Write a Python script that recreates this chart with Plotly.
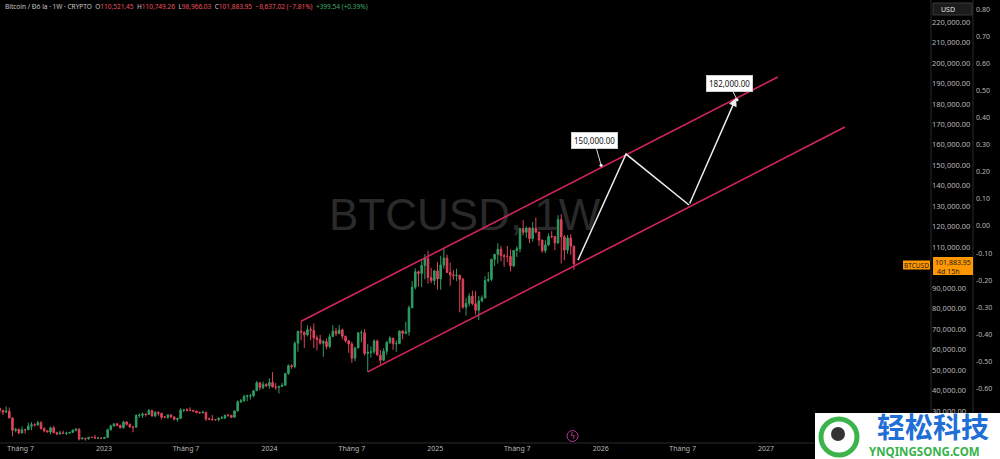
import pandas as pd
import plotly.graph_objects as go

# ---------------- data (weekly BTC/USD candles) ----------------
week_start = "2022-05-16"

opens = [
    31300, 30300, 29450, 29900, 26600, 20550, 21000, 19300, 20850, 20800, 22600, 23300, 23200,
    24300, 21500, 20300, 19800, 21800, 19400, 18800, 19300, 19070, 19200, 19570, 20630, 21150,
    16330, 16700, 16450, 17120, 17100, 16780, 16840,
    16610, 17100, 20900, 22700, 23750, 22950, 21800, 24600, 23500, 22200, 22100, 27800, 27900,
    28500, 28300, 30300, 27600, 29300, 28900, 26900, 26900, 28100, 27100, 25900, 26300, 30500,
    30600, 30300, 30300, 30000, 29300, 29100, 29400, 26100, 26000, 25800, 25800, 26500, 26600,
    27970, 27900, 26900, 30000, 34500, 35000, 37100, 37400, 37450, 39900, 43800, 41400, 43000,
    42300, 43900, 41700, 41600, 42000, 42600, 48300, 52100, 51700, 63100, 68900, 68400, 67200,
    69700, 69400, 65700, 64900, 63100, 63900, 61500, 66300, 69000, 67800, 69600, 66500, 64300,
    62700, 55800, 60800, 68200, 68250, 58100, 58700, 58900, 64200, 57300, 54800, 59200, 63600,
    65600, 62800, 62900, 69000, 67900, 68700, 80400, 90500, 98000, 97200, 101100, 104500, 95200,
    93700,
    98400, 94500, 101300, 104700, 97700, 96500, 96100, 96300, 94300, 80700, 82600, 86100, 82400,
    79200, 83800, 85200, 93700, 94300, 104100, 106500, 109000, 105800, 105600, 105500, 100900,
    108400, 109200, 119100, 117300, 119400, 114200, 119300, 117400, 113500, 108300, 111100,
    115300, 115200, 112100, 123500, 115100, 108600, 114500, 110521.45,
]
highs = [
    31400, 30600, 32200, 31700, 26900, 21800, 21500, 22500, 21300, 24300, 24600, 24000, 25200,
    25000, 22000, 20600, 22400, 22800, 19900, 20400, 20500, 19900, 19700, 21000, 21500, 21500,
    17200, 16800, 17400, 17400, 18400, 17000, 16950,
    17200, 21400, 23300, 23800, 24200, 23400, 25200, 25100, 23900, 22600, 28400, 28900, 29200,
    28800, 31000, 30500, 30000, 29800, 29000, 27600, 28400, 28400, 27400, 26800, 31400, 31000,
    31400, 31800, 30400, 30100, 29700, 30200, 29600, 26800, 28100, 26100, 26800, 27500, 28000,
    28600, 28000, 30300, 35200, 35900, 37900, 38000, 38400, 40000, 44700, 43900, 44400, 43600,
    45900, 49000, 43600, 42200, 43800, 48600, 52800, 52900, 64000, 69200, 73800, 68900, 71800,
    71300, 72800, 66900, 67200, 64700, 65500, 67700, 71900, 70600, 72000, 70200, 66900, 64600,
    63800, 61400, 68300, 69400, 70000, 62600, 61600, 65000, 64900, 59800, 60600, 64100, 66500,
    65700, 64400, 69400, 69500, 73600, 81500, 93400, 99600, 98600, 104000, 106600, 108300, 99900,
    98900,
    102700, 105800, 109600, 106400, 102500, 98800, 99500, 96500, 95000, 85300, 87500, 88800, 88500,
    86100, 86500, 95800, 97900, 104300, 106600, 111900, 110700, 106800, 110600, 108900, 108500,
    110500, 119500, 123200, 120200, 119900, 122300, 124500, 117600, 113600, 113400, 116700,
    117900, 115400, 125600, 126200, 115900, 116000, 116400, 110749.26,
]
lows = [
    28700, 28000, 29300, 26500, 17600, 19600, 18600, 19000, 18900, 20800, 20700, 22400, 22700,
    20800, 19600, 19600, 18500, 19300, 18200, 18500, 19000, 18200, 18900, 19200, 20000, 15600,
    16250, 15500, 16000, 16900, 16500, 16300, 16350,
    16550, 17000, 20400, 22300, 22500, 21500, 21400, 22800, 21900, 19600, 21900, 26600, 26600,
    27300, 28200, 27200, 26900, 27700, 25900, 26400, 26100, 26600, 25400, 24800, 26200, 29500,
    29800, 29900, 29500, 28900, 28600, 28900, 25200, 25800, 25300, 25300, 24900, 26300, 26000,
    27200, 26500, 26800, 29900, 33900, 34500, 34800, 35600, 36700, 39800, 40200, 40600, 41700,
    40800, 41500, 40300, 38500, 41800, 42300, 47700, 50600, 50900, 59000, 64600, 60800, 66400,
    64500, 60700, 59600, 62400, 56500, 60200, 60700, 66100, 66600, 67500, 65000, 63400, 58400,
    53500, 54300, 60700, 63500, 57100, 49100, 56100, 57900, 57200, 52600, 54500, 57500, 62700,
    59800, 58900, 62700, 65100, 67500, 66800, 80200, 89400, 90800, 90500, 94300, 92200, 92500,
    91500,
    89300, 89200, 99500, 97600, 91200, 94100, 93400, 78200, 80000, 76600, 81200, 81600, 77100,
    74500, 83100, 85100, 92900, 93400, 100800, 102000, 103100, 100400, 102700, 98200, 100200,
    105200, 107500, 115700, 114700, 112000, 112700, 116800, 110600, 107300, 107200, 110600,
    114300, 108600, 111500, 102000, 103600, 106800, 106300, 98966.03,
]
closes = [
    30300, 29450, 29900, 26600, 20550, 21000, 19300, 20850, 20800, 22600, 23300, 23200, 24300,
    21500, 20300, 19800, 21800, 19400, 18800, 19300, 19070, 19200, 19570, 20630, 21150, 16330,
    16700, 16450, 17120, 17100, 16780, 16840, 16610,
    17100, 20900, 22700, 23750, 22950, 21800, 24600, 23500, 22200, 22100, 27800, 27900, 28500,
    28300, 30300, 27600, 29300, 28900, 26900, 26900, 28100, 27100, 25900, 26300, 30500, 30600,
    30300, 30300, 30000, 29300, 29100, 29400, 26100, 26000, 25800, 25800, 26500, 26600, 27970,
    27900, 26900, 30000, 34500, 35000, 37100, 37400, 37450, 39900, 43800, 41400, 43000, 42300,
    43900, 41700, 41600, 42000, 42600, 48300, 52100, 51700, 63100, 68900, 68400, 67200, 69700,
    69400, 65700, 64900, 63100, 63900, 61500, 66300, 69000, 67800, 69600, 66500, 64300, 62700,
    55800, 60800, 68200, 68250, 58100, 58700, 58900, 64200, 57300, 54800, 59200, 63600, 65600,
    62800, 62900, 69000, 67900, 68700, 80400, 90500, 98000, 97200, 101100, 104500, 95200, 93700,
    98400,
    94500, 101300, 104700, 97700, 96500, 96100, 96300, 94300, 80700, 82600, 86100, 82400, 79200,
    83800, 85200, 93700, 94300, 104100, 106500, 109000, 105800, 105600, 105500, 100900, 108400,
    109200, 119100, 117300, 119400, 114200, 119300, 117400, 113500, 108300, 111100, 115300,
    115200, 112100, 123500, 115100, 108600, 114500, 110521, 101883.95,
]

# axis ticks (100,000 is hidden behind the last-price label in the reference)
price_ticks = [v for v in range(30000, 220001, 10000) if v != 100000]
pct_ticks = [0.80, 0.70, 0.60, 0.50, 0.40, 0.30, 0.20, 0.10, 0.00,
             -0.10, -0.20, -0.30, -0.40, -0.50, -0.60, -0.70]
x_tick_vals = ["2022-07-01", "2023-01-01", "2023-07-01", "2024-01-01", "2024-07-01",
               "2025-01-01", "2025-07-01", "2026-01-01", "2026-07-01", "2027-01-01"]
x_tick_text = ["Tháng 7", "2023", "Tháng 7", "2024", "Tháng 7", "2025",
               "Tháng 7", "2026", "Tháng 7", "2027"]

# drawings: parallel channel and projected path
channel_upper_x = ["2024-03-11", "2027-01-27"]
channel_upper_y = [73800, 193100]
channel_lower_x = ["2024-08-05", "2027-06-24"]
channel_lower_y = [49100, 168700]
path_x = ["2025-11-12", "2026-02-26", "2026-07-15", "2026-10-27"]
path_y = [103700, 155500, 130600, 182900]
target_x = ["2026-01-02", "2026-10-29"]
target_y = [150000, 182000]
target_text = ["150,000.00", "182,000.00"]

last_price = closes[-1]
header_ohlc = dict(O=opens[-1], H=highs[-1], L=lows[-1], C=closes[-1])

# ---------------- figure ----------------
W, H = 1000, 459
UP, DOWN = "#2f9e63", "#e0435a"
CHAN = "#d6245e"
AXIS_TXT = "#b8b8b8"

dates = pd.date_range(week_start, periods=len(closes), freq="7D")

fig = go.Figure()

# watermark (drawn first so candles sit on top)
fig.add_trace(go.Scatter(
    x=["2025-03-07"], y=[123800], mode="text", text=["BTCUSD, 1W"],
    textfont=dict(size=44, color="#2a2a2a", family="Liberation Sans, Arial"),
    hoverinfo="skip", showlegend=False))

fig.add_trace(go.Candlestick(
    x=dates, open=opens, high=highs, low=lows, close=closes,
    increasing=dict(line=dict(color=UP, width=1), fillcolor=UP),
    decreasing=dict(line=dict(color=DOWN, width=1), fillcolor=DOWN),
    whiskerwidth=0, hoverinfo="skip", showlegend=False))

for cx, cy in ((channel_upper_x, channel_upper_y), (channel_lower_x, channel_lower_y)):
    fig.add_trace(go.Scatter(x=cx, y=cy, mode="lines", line=dict(color=CHAN, width=1.6),
                             hoverinfo="skip", showlegend=False))

fig.add_trace(go.Scatter(x=path_x[:3], y=path_y[:3], mode="lines",
                         line=dict(color="#ececec", width=1.5),
                         hoverinfo="skip", showlegend=False))
fig.add_trace(go.Scatter(x=target_x, y=target_y, mode="markers",
                         marker=dict(color="#ffffff", size=3),
                         hoverinfo="skip", showlegend=False))

# dummy trace so that the secondary (percent) axis is drawn
fig.add_trace(go.Scatter(x=[dates[0]], y=[0], yaxis="y2", mode="markers",
                         marker=dict(opacity=0), hoverinfo="skip", showlegend=False))

annotations = []
# arrow for last leg of projected path
annotations.append(dict(x=path_x[3], y=path_y[3], ax=path_x[2], ay=path_y[2],
                        xref="x", yref="y", axref="x", ayref="y", text="",
                        showarrow=True, arrowhead=2, arrowsize=1.1, arrowwidth=1.5,
                        arrowcolor="#ececec", standoff=0))
# target callouts
for tx, ty, tt, (dx, dy) in zip(target_x, target_y, target_text, [(-7, -25), (-8, -16)]):
    annotations.append(dict(x=tx, y=ty, xref="x", yref="y", text=tt, showarrow=True,
                            arrowhead=0, arrowwidth=1, arrowcolor="#d8d8d8", ax=dx, ay=dy,
                            font=dict(size=8, color="#111111", family="Noto Sans"),
                            bgcolor="#ffffff", bordercolor="#cfcfcf", borderwidth=1,
                            borderpad=2))

def px(x):
    return x / W

def py(y):
    return 1 - y / H

# header line
grey, red, green = "#c9c9c9", "#f0505e", "#3fae6a"
hdr = (f"<span style='color:{grey}'>Bitcoin / Đô la · 1W · CRYPTO</span>  "
       + "  ".join(f"<span style='color:{grey}'>{k}</span><span style='color:{red}'>{v:,.2f}</span>"
                   for k, v in header_ohlc.items())
       + f"  <span style='color:{red}'>−8,637.02 (−7.81%)</span>"
       + f"  <span style='color:{green}'>+399.54 (+0.39%)</span>")
annotations.append(dict(x=px(3), y=py(7), xref="paper", yref="paper", text=hdr,
                        showarrow=False, xanchor="left", yanchor="middle",
                        font=dict(size=6.5, family="Noto Sans")))

# USD box
annotations.append(dict(x=px(939), y=py(9), xref="paper", yref="paper", text="USD",
                        showarrow=False, xanchor="left", yanchor="middle",
                        font=dict(size=7, color="#e0e0e0", family="Noto Sans")))

# last price labels
annotations.append(dict(x=px(953), y=py(262), xref="paper", yref="paper",
                        text=f"{last_price:,.2f}", showarrow=False, xanchor="center",
                        yanchor="middle", borderpad=0,
                        font=dict(size=7, color="#1a1a1a", family="Noto Sans")))
annotations.append(dict(x=px(935.5), y=py(271), xref="paper", yref="paper", text="4d 15h",
                        showarrow=False, xanchor="left", yanchor="middle", borderpad=0,
                        font=dict(size=7, color="#1a1a1a", family="Noto Sans")))
annotations.append(dict(x=px(916.5), y=py(265), xref="paper", yref="paper", text="BTCUSD",
                        showarrow=False, xanchor="center", yanchor="middle", borderpad=0,
                        font=dict(size=6.5, color="#1a1a1a", family="Noto Sans")))

# lightning icon
annotations.append(dict(x=px(572.5), y=py(436), xref="paper", yref="paper", text="ϟ",
                        showarrow=False, xanchor="center", yanchor="middle",
                        font=dict(size=8, color="#d04aa0", family="DejaVu Sans")))

# site watermark bottom-right
annotations.append(dict(x=px(933), y=py(425.5), xref="paper", yref="paper", text="<b>轻松科技</b>",
                        showarrow=False, xanchor="center", yanchor="middle", borderpad=0,
                        font=dict(size=28, color="#1f6fd6", family="Noto Sans CJK SC")))
annotations.append(dict(x=px(924), y=py(451.5), xref="paper", yref="paper",
                        text="<b>YNQINGSONG.COM</b>", showarrow=False, xanchor="center",
                        yanchor="middle", borderpad=0,
                        font=dict(size=11.5, color="#35b34a", family="Noto Sans")))

shapes = [
    # axis separators
    dict(type="line", xref="paper", yref="paper", x0=0, x1=1, y0=py(443), y1=py(443),
         line=dict(color="#2a2a2a", width=1)),
    dict(type="line", xref="paper", yref="paper", x0=px(931), x1=px(931), y0=0, y1=1,
         line=dict(color="#2a2a2a", width=1)),
    dict(type="line", xref="paper", yref="paper", x0=px(973), x1=px(973), y0=0, y1=1,
         line=dict(color="#2a2a2a", width=1)),
    # USD box
    dict(type="rect", xref="paper", yref="paper", x0=px(933), x1=px(972), y0=py(15), y1=py(3),
         fillcolor="#1c1c1c", line=dict(color="#3a3a3a", width=1)),
    # last price boxes
    dict(type="rect", xref="paper", yref="paper", x0=px(933), x1=px(973), y0=py(275), y1=py(257),
         fillcolor="#ff9800", line=dict(width=0)),
    dict(type="rect", xref="paper", yref="paper", x0=px(903), x1=px(930), y0=py(269.5), y1=py(260.5),
         fillcolor="#ff9800", line=dict(width=0)),
    # lightning circle
    dict(type="circle", xref="paper", yref="paper", x0=px(567), x1=px(578), y0=py(441.5), y1=py(430.5),
         line=dict(color="#b03a8a", width=1)),
    # site watermark box and logo
    dict(type="rect", xref="paper", yref="paper", x0=px(815), x1=1, y0=0, y1=py(413),
         fillcolor="#ffffff", line=dict(width=0), layer="above"),
    dict(type="circle", xref="paper", yref="paper", x0=px(821), x1=px(857), y0=py(455), y1=py(419),
         line=dict(color="#3cb44b", width=5), fillcolor="#ffffff"),
    dict(type="circle", xref="paper", yref="paper", x0=px(831), x1=px(845), y0=py(441), y1=py(427),
         line=dict(width=0), fillcolor="#333333"),
]

fig.update_layout(
    width=W, height=H,
    margin=dict(l=0, r=0, t=0, b=0),
    paper_bgcolor="#000000", plot_bgcolor="#000000",
    showlegend=False,
    xaxis=dict(domain=[0, 931 / W], type="date",
               range=["2022-05-16 12:00", "2027-12-31"],
               tickmode="array", tickvals=x_tick_vals, ticktext=x_tick_text,
               showgrid=False, zeroline=False, showline=False, ticks="",
               tickfont=dict(size=7, color=AXIS_TXT, family="Noto Sans"),
               rangeslider=dict(visible=False), fixedrange=True),
    yaxis=dict(domain=[16 / H, 1], side="right", range=[14370, 230745],
               tickmode="array", tickvals=price_ticks,
               ticktext=[f"{v:,.2f}" for v in price_ticks],
               showgrid=False, zeroline=False, showline=False, ticks="",
               tickfont=dict(size=7.5, color=AXIS_TXT, family="Noto Sans")),
    yaxis2=dict(overlaying="y", side="right", anchor="free", position=975 / W,
                range=[-0.801, 0.834], tickmode="array", tickvals=pct_ticks,
                ticktext=[f"{v:.2f}" for v in pct_ticks],
                showgrid=False, zeroline=False, showline=False, ticks="",
                tickfont=dict(size=7, color=AXIS_TXT, family="Noto Sans")),
    annotations=annotations,
    shapes=shapes,
)

fig.write_html("out.html")
